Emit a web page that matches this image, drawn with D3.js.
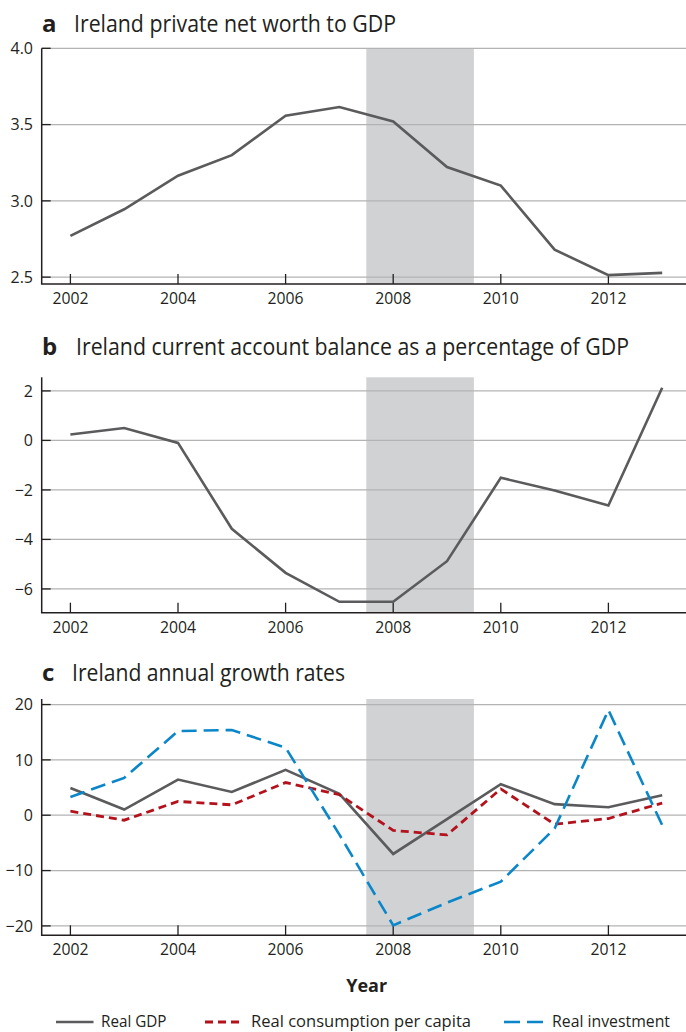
<!DOCTYPE html>
<html><head><meta charset="utf-8">
<script src="https://cdn.jsdelivr.net/npm/d3@7"></script>
<style>
body{margin:0;background:#fff;}
svg{display:block;}
text{font-family:"Open Sans","Noto Sans",sans-serif;fill:#231f20;}
</style></head>
<body>
<svg id="chart" width="686" height="1032"></svg>
<script>
const years = [2002,2003,2004,2005,2006,2007,2008,2009,2010,2011,2012,2013];
const xTicks = [2002,2004,2006,2008,2010,2012];
const netWorth = [2.77,2.945,3.165,3.30,3.558,3.615,3.52,3.222,3.10,2.68,2.513,2.528];
const currentAccount = [0.24,0.50,-0.10,-3.57,-5.35,-6.52,-6.52,-4.88,-1.51,-2.02,-2.63,2.13];
const realGDP = [4.93,1.03,6.45,4.2,8.2,3.85,-7.0,-0.7,5.6,2.0,1.45,3.6];
const realConsumption = [0.72,-0.9,2.5,1.87,5.9,3.7,-2.75,-3.56,4.75,-1.63,-0.6,2.2];
const realInvestment = [3.3,6.75,15.2,15.4,12.2,-3.5,-19.9,-15.8,-12.0,-2.4,19.0,-1.8];
const ticksA = [2.5,3.0,3.5,4.0];
const ticksB = [-6,-4,-2,0,2];
const ticksC = [-20,-10,0,10,20];
const recession = [2007.5,2009.5];
const titles = ["Ireland private net worth to GDP","Ireland current account balance as a percentage of GDP","Ireland annual growth rates"];
const letters = ["a","b","c"];
const legendLabels = ["Real GDP","Real consumption per capita","Real investment"];

const svg = d3.select("#chart");
const W = 686;
const axisX = 41.7;
const x = d3.scaleLinear().domain([2002,2012]).range([70.4,608.4]);
const fmtMinus = d => (d<0 ? "\u2212"+Math.abs(d) : String(d));

const panels = [
  {letter:letters[0], title:titles[0], titleBase:31.7, titleLen:322, titleX:74,
   domain:[2.455,4.0], range:[284,48.3], ticks:ticksA, fmt:d3.format(".1f"),
   series:[{v:netWorth,color:"#5b5b5d",w:2.6,dash:null}]},
  {letter:letters[1], title:titles[1], titleBase:355, titleLen:553, titleX:76,
   domain:[-6.96,2.55], range:[612.7,377.3], ticks:ticksB, fmt:fmtMinus,
   series:[{v:currentAccount,color:"#5b5b5d",w:2.6,dash:null}]},
  {letter:letters[2], title:titles[2], titleBase:681, titleLen:273, titleX:72,
   domain:[-21.7,21], range:[935.3,699], ticks:ticksC, fmt:fmtMinus,
   series:[{v:realGDP,color:"#5b5b5d",w:2.6,dash:null},
           {v:realConsumption,color:"#b3121d",w:2.8,dash:"8,5"},
           {v:realInvestment,color:"#0a86c9",w:2.6,dash:"15,7"}]}
];

panels.forEach(p => {
  const y = d3.scaleLinear().domain(p.domain).range(p.range);
  const g = svg.append("g");
  const bottom = p.range[0], top = p.range[1];
  g.append("rect").attr("x",x(recession[0])).attr("y",top)
    .attr("width",x(recession[1])-x(recession[0])).attr("height",bottom-top)
    .attr("fill","#d1d2d4");
  g.selectAll(".grid").data(p.ticks).enter().append("line")
    .attr("x1",axisX).attr("x2",W).attr("y1",d=>y(d)).attr("y2",d=>y(d))
    .attr("stroke","#b3b3b3").attr("stroke-width",1.3);
  g.selectAll(".ytick").data(p.ticks).enter().append("line")
    .attr("x1",axisX).attr("x2",axisX+9).attr("y1",d=>y(d)).attr("y2",d=>y(d))
    .attr("stroke","#231f20").attr("stroke-width",1.3);
  g.selectAll(".ylab").data(p.ticks).enter().append("text")
    .attr("x",33).attr("y",d=>y(d)).attr("dy","0.36em").attr("text-anchor","end")
    .attr("font-size",16).text(p.fmt);
  g.append("line").attr("x1",axisX).attr("x2",axisX).attr("y1",top).attr("y2",bottom)
    .attr("stroke","#231f20").attr("stroke-width",1.5);
  g.append("line").attr("x1",axisX-0.75).attr("x2",W).attr("y1",bottom).attr("y2",bottom)
    .attr("stroke","#231f20").attr("stroke-width",1.5);
  g.selectAll(".xtick").data(xTicks).enter().append("line")
    .attr("x1",d=>x(d)).attr("x2",d=>x(d)).attr("y1",bottom).attr("y2",bottom-10)
    .attr("stroke","#231f20").attr("stroke-width",1.3);
  g.selectAll(".xlab").data(xTicks).enter().append("text")
    .attr("x",d=>x(d)).attr("y",bottom+20).attr("text-anchor","middle")
    .attr("font-size",16).attr("textLength",36).attr("lengthAdjust","spacingAndGlyphs").text(d=>d);
  const line = d3.line().x((d,i)=>x(years[i])).y(d=>y(d));
  p.series.forEach(s => {
    g.append("path").datum(s.v).attr("d",line).attr("fill","none")
      .attr("stroke",s.color).attr("stroke-width",s.w)
      .attr("stroke-dasharray",s.dash).attr("stroke-linejoin","miter");
  });
  g.append("text").attr("x",42).attr("y",p.titleBase).attr("font-size",24)
    .attr("font-weight","bold").text(p.letter);
  g.append("text").attr("x",p.titleX).attr("y",p.titleBase).attr("font-size",23)
    .attr("textLength",p.titleLen).attr("lengthAdjust","spacingAndGlyphs").text(p.title);
});

svg.append("text").attr("x",366.7).attr("y",991.5).attr("text-anchor","middle")
  .attr("font-size",18).attr("font-weight","bold").text("Year");

const legend = [
  {label:legendLabels[0], color:"#5b5b5d", dash:null, x1:56, x2:93.5, tx:101, tl:65.5, w:2.6},
  {label:legendLabels[1], color:"#b3121d", dash:"8,5", x1:205, x2:240, tx:251, tl:220, w:2.8},
  {label:legendLabels[2], color:"#0a86c9", dash:"16,7", x1:504, x2:544, tx:552, tl:118, w:2.6}
];
const lg = svg.append("g");
legend.forEach(l => {
  lg.append("line").attr("x1",l.x1).attr("x2",l.x2).attr("y1",1022).attr("y2",1022)
    .attr("stroke",l.color).attr("stroke-width",l.w).attr("stroke-dasharray",l.dash);
  lg.append("text").attr("x",l.tx).attr("y",1027).attr("font-size",16.5)
    .attr("textLength",l.tl).attr("lengthAdjust","spacingAndGlyphs").text(l.label);
});
</script>
</body></html>
